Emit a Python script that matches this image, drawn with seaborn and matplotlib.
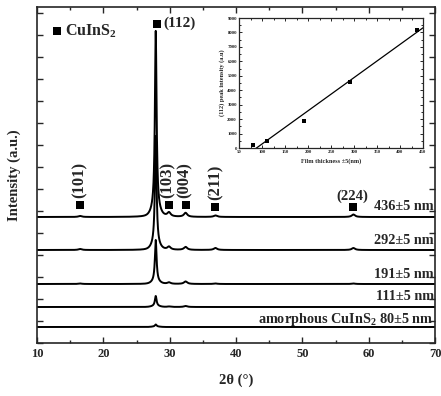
import numpy as np
import pandas as pd
import matplotlib
matplotlib.use("Agg")
import matplotlib.pyplot as plt
from matplotlib.ticker import MultipleLocator, NullFormatter
import seaborn as sns

# ---------------- data ----------------
samples = ["436±5 nm", "292±5 nm", "191±5 nm", "111±5 nm", "amorphous CuInS$_2$ 80±5 nm"]
offsets = [126, 93, 59, 36, 16]
peak_pos = [16.5, 27.9, 29.9, 32.4, 36.9, 57.7]
peak_hwhm = [0.3, 0.15, 0.3, 0.3, 0.3, 0.3]
peak_heights = [
    [1.0, 180, 4.0, 4.0, 1.5, 2.5],
    [1.0, 110, 3.0, 3.0, 2.0, 2.0],
    [0.5, 42, 1.5, 2.5, 0.5, 0.5],
    [0.0, 10, 0.5, 1.0, 0.0, 0.0],
    [0.0, 2, 0.0, 0.0, 0.0, 0.0],
]
broad_heights = [6, 4, 2, 1, 0.5]

refl_labels = ["(101)", "(103)", "(004)", "(211)", "(224)"]
refl_marker_x = [16.5, 29.9, 32.4, 36.9, 57.6]
refl_marker_y = [138, 138, 138, 136, 136]
refl_label_x = [16.5, 29.75, 32.3, 37.0, 57.6]
refl_rot = [90, 90, 90, 90, 0]

thickness = [80, 111, 191, 292, 436]
intensity112 = [200, 500, 1900, 4600, 8200]

# ---------------- style ----------------
sns.set_theme(style="ticks")
plt.rcParams["font.family"] = ["Liberation Serif", "DejaVu Serif"]
plt.rcParams["font.weight"] = "bold"
plt.rcParams["mathtext.fontset"] = "custom"
plt.rcParams["mathtext.rm"] = "Liberation Serif:bold"
plt.rcParams["mathtext.it"] = "Liberation Serif:bold"
plt.rcParams["mathtext.bf"] = "Liberation Serif:bold"

fig = plt.figure(figsize=(4.41, 3.96), dpi=100)
ax = fig.add_axes([37 / 441, 1 - 343 / 396, 398 / 441, 336 / 396])

x = np.arange(10, 70.001, 0.02)
for name, off, hs, bh in zip(samples, offsets, peak_heights, broad_heights):
    y = np.full_like(x, off, dtype=float)
    for p, w, h in zip(peak_pos, peak_hwhm, hs):
        y += h / (1 + ((x - p) / w) ** 2)
    y += bh * np.exp(-((x - 27.9) / 0.8) ** 2)
    df = pd.DataFrame({"x": x, "y": y})
    sns.lineplot(data=df, x="x", y="y", ax=ax, color="black", lw=1.4)

ax.set_xlim(10, 70)
ax.set_ylim(0, 336)
ax.xaxis.set_major_locator(MultipleLocator(10))
ax.xaxis.set_minor_locator(MultipleLocator(5))
ax.yaxis.set_major_locator(MultipleLocator(22))
ax.yaxis.set_major_formatter(NullFormatter())
ax.tick_params(axis="both", which="both", direction="in", top=True, right=True,
               labelsize=9, width=1)
ax.tick_params(which="major", length=4)
ax.tick_params(which="minor", length=2.5)
for lab in ax.get_xticklabels():
    lab.set_fontweight("bold")
for s in ax.spines.values():
    s.set_linewidth(1.2)
ax.set_xlabel("2θ (°)", fontsize=10.5, fontweight="bold", labelpad=10)
ax.set_ylabel("Intensity (a.u.)", fontsize=10.5, fontweight="bold", labelpad=8)

# reflection markers and labels
sns.scatterplot(x=refl_marker_x, y=refl_marker_y, ax=ax, marker="s", s=30,
                color="black", edgecolor="black", linewidth=0)
for lab, lx, my, rot in zip(refl_labels, refl_label_x, refl_marker_y, refl_rot):
    ax.text(lx, my + 7 if rot else my + 11, lab, rotation=rot, ha="center",
            va="bottom" if rot else "center", fontsize=12 if rot else 10.5,
            fontweight="bold")

sns.scatterplot(x=[28.1, 13.0], y=[319, 312], ax=ax, marker="s", s=35,
                color="black", edgecolor="black", linewidth=0)
ax.text(29.0, 320, "(112)", ha="left", va="center", fontsize=11, fontweight="bold")
ax.text(14.2, 312, "CuInS$_2$", ha="left", va="center", fontsize=11.5, fontweight="bold")

label_y = [136, 103, 68, 46, 24]
for name, ly in zip(samples, label_y):
    ax.text(69.8, ly, name, ha="right", va="center", fontsize=10.3, fontweight="bold")

# ---------------- inset ----------------
ins = fig.add_axes([239 / 441, 1 - 148 / 396, 184 / 441, 130 / 396])
sns.scatterplot(x=thickness, y=intensity112, ax=ins, marker="s", s=12,
                color="black", edgecolor="black", linewidth=0)
slope, intercept = np.polyfit(thickness, intensity112, 1)
fx = np.array([50, 450])
sns.lineplot(x=fx, y=slope * fx + intercept, ax=ins, color="black", lw=0.9)
ins.set_xlim(50, 450)
ins.set_ylim(0, 9000)
ins.xaxis.set_major_locator(MultipleLocator(50))
ins.xaxis.set_minor_locator(MultipleLocator(25))
ins.yaxis.set_major_locator(MultipleLocator(1000))
ins.yaxis.set_minor_locator(MultipleLocator(500))
ins.tick_params(axis="both", which="both", direction="in", top=True, right=True,
                labelsize=3.5, width=0.7, pad=1.5)
ins.tick_params(which="major", length=2.5)
ins.tick_params(which="minor", length=1.5)
for s in ins.spines.values():
    s.set_linewidth(0.9)
ins.set_xlabel("Film thickness ±5(nm)", fontsize=4.5, fontweight="bold", labelpad=3)
ins.set_ylabel("(112) peak intensity (a.u)", fontsize=4.5, fontweight="bold", labelpad=2)

fig.savefig("out.png", dpi=100)
